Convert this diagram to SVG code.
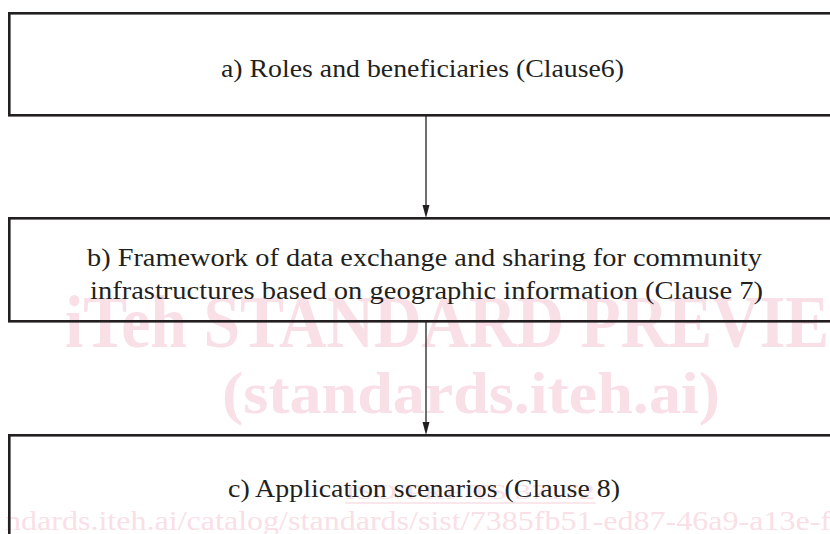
<svg xmlns="http://www.w3.org/2000/svg" width="830" height="534" viewBox="0 0 830 534">
<style>
.box{fill:none;stroke:#231f20;stroke-width:2.6}
.lbl{font-family:"Liberation Serif","DejaVu Serif",serif;font-size:25px;fill:#231f20}
.wm{font-family:"Liberation Serif","DejaVu Serif",serif;fill:#f9dfe6}
.con{stroke:#231f20;stroke-width:1.3;fill:none}
.head{fill:#231f20}
</style>
<rect width="830" height="534" fill="#ffffff"/>
<g id="watermark">
<text class="wm" x="65" y="347" font-size="75" font-weight="bold" textLength="830" lengthAdjust="spacingAndGlyphs">iTeh STANDARD PREVIEW</text>
<text class="wm" x="222" y="413" font-size="60" font-weight="bold" textLength="498" lengthAdjust="spacingAndGlyphs">(standards.iteh.ai)</text>
<text class="wm" x="345" y="499" font-size="22" textLength="250" lengthAdjust="spacingAndGlyphs">ISO/PRF TS 37172</text>
<line x1="345" y1="503" x2="596" y2="503" stroke="#f9dfe6" stroke-width="1.5"/>
<text class="wm" x="5" y="530" font-size="27" textLength="826" lengthAdjust="spacingAndGlyphs">ndards.iteh.ai/catalog/standards/sist/7385fb51-ed87-46a9-a13e-f</text>
</g>
<g id="connectors">
<line class="con" x1="426" y1="116" x2="426" y2="206"/>
<polygon class="head" points="422.5,205 429.5,205 426,218"/>
<line class="con" x1="426" y1="322" x2="426" y2="423"/>
<polygon class="head" points="422.5,422 429.5,422 426,435"/>
</g>
<g id="nodeA">
<rect class="box" x="9.3" y="13.3" width="840" height="102"/>
<text class="lbl" x="221" y="77" textLength="403" lengthAdjust="spacingAndGlyphs">a) Roles and beneficiaries (Clause6)</text>
</g>
<g id="nodeB">
<rect class="box" x="9.3" y="218.3" width="840" height="103"/>
<text class="lbl" x="87" y="266" textLength="675" lengthAdjust="spacingAndGlyphs">b) Framework of data exchange and sharing for community</text>
<text class="lbl" x="90" y="299" textLength="673" lengthAdjust="spacingAndGlyphs">infrastructures based on geographic information (Clause 7)</text>
</g>
<g id="nodeC">
<rect class="box" x="9.3" y="435.3" width="840" height="120"/>
<text class="lbl" x="228" y="497" textLength="392" lengthAdjust="spacingAndGlyphs">c) Application scenarios (Clause 8)</text>
</g>
</svg>
